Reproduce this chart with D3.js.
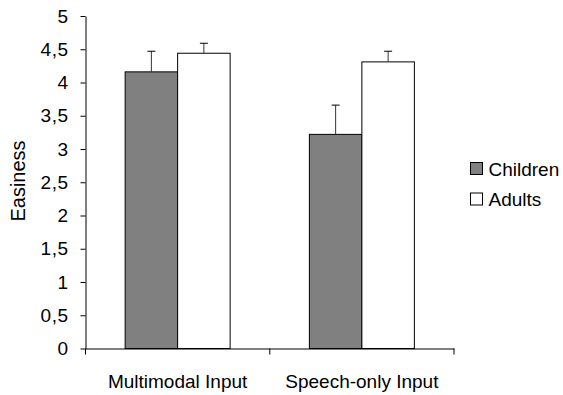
<!DOCTYPE html>
<html><head><meta charset="utf-8">
<script src="https://cdn.jsdelivr.net/npm/d3@7"></script>
<style>body{margin:0;background:#fff}svg{display:block}text{font-family:"Liberation Sans",Arial,sans-serif;fill:#000}</style>
</head><body><svg id="c" width="563" height="395"></svg>
<script>
const categories = ["Multimodal Input", "Speech-only Input"];
const seriesNames = ["Children", "Adults"];
const children = [4.16, 3.22];
const adults = [4.44, 4.31];
const childrenErr = [0.31, 0.44];
const adultsErr = [0.15, 0.16];
const yTicks = [0, 0.5, 1, 1.5, 2, 2.5, 3, 3.5, 4, 4.5, 5];
const colors = {"Children": "#808080", "Adults": "#ffffff"};

const svg = d3.select("#c");
const m = {l: 85.5, r: 454, t: 16, b: 348.5};
const x = d3.scaleBand().domain(categories).range([m.l, m.r]).paddingInner(0).paddingOuter(0);
const x1 = d3.scaleBand().domain(seriesNames).range([0, 105]);
const y = d3.scaleLinear().domain([0, 5]).range([m.b, m.t]);

const data = categories.map((c, i) => ({cat: c, vals: [
  {s: "Children", v: children[i], e: childrenErr[i]},
  {s: "Adults", v: adults[i], e: adultsErr[i]}]}));

const g = svg.selectAll("g.grp").data(data).join("g")
  .attr("transform", d => `translate(${x(d.cat) + x.bandwidth()/2 - 52.5},0)`);
g.selectAll("rect").data(d => d.vals).join("rect")
  .attr("x", d => x1(d.s)).attr("width", x1.bandwidth())
  .attr("y", d => y(d.v)).attr("height", d => y(0) - y(d.v))
  .attr("fill", d => colors[d.s]).attr("stroke", "#000").attr("stroke-width", 1);
g.selectAll("line.err").data(d => d.vals).join("line").attr("class", "err")
  .attr("x1", d => x1(d.s) + x1.bandwidth()/2).attr("x2", d => x1(d.s) + x1.bandwidth()/2)
  .attr("y1", d => y(d.v)).attr("y2", d => y(d.v + d.e)).attr("stroke", "#333");
g.selectAll("line.cap").data(d => d.vals).join("line").attr("class", "cap")
  .attr("x1", d => x1(d.s) + x1.bandwidth()/2 - 4).attr("x2", d => x1(d.s) + x1.bandwidth()/2 + 4)
  .attr("y1", d => y(d.v + d.e)).attr("y2", d => y(d.v + d.e)).attr("stroke", "#000");

const fmt = d => String(d).replace(".", ",");
const ya = svg.append("g").attr("transform", `translate(${m.l},0)`)
  .call(d3.axisLeft(y).tickValues(yTicks).tickFormat(fmt).tickSize(5).tickSizeOuter(0).tickPadding(12));
ya.select(".domain").attr("stroke", "#000");
ya.selectAll("text").style("font-size", "19px").style("letter-spacing", "0.5px").attr("fill", "#000");

const xa = svg.append("g").attr("transform", `translate(0,${m.b})`)
  .call(d3.axisBottom(x).tickValues([]).tickSizeOuter(0));
xa.select(".domain").attr("stroke", "#000");
xa.selectAll(".bt").data([m.l, (m.l + m.r)/2, m.r]).join("line").attr("class", "bt")
  .attr("x1", d => d).attr("x2", d => d).attr("y1", 0).attr("y2", 6).attr("stroke", "#000");
svg.append("g").selectAll("text").data(categories).join("text")
  .attr("x", d => x(d) + x.bandwidth()/2).attr("y", 388).attr("text-anchor", "middle")
  .style("font-size", "19px").text(d => d);

svg.append("text").attr("transform", "translate(25,181) rotate(-90)").attr("text-anchor", "middle")
  .style("font-size", "20px").text("Easiness");

const lg = svg.append("g").selectAll("g").data(seriesNames).join("g")
  .attr("transform", (d, i) => `translate(470.5,${162.5 + i * 30.5})`);
lg.append("rect").attr("width", 12).attr("height", 12).attr("fill", d => colors[d]).attr("stroke", "#000");
lg.append("text").attr("x", 18).attr("y", 13).style("font-size", "19px").text(d => d);
</script></body></html>
